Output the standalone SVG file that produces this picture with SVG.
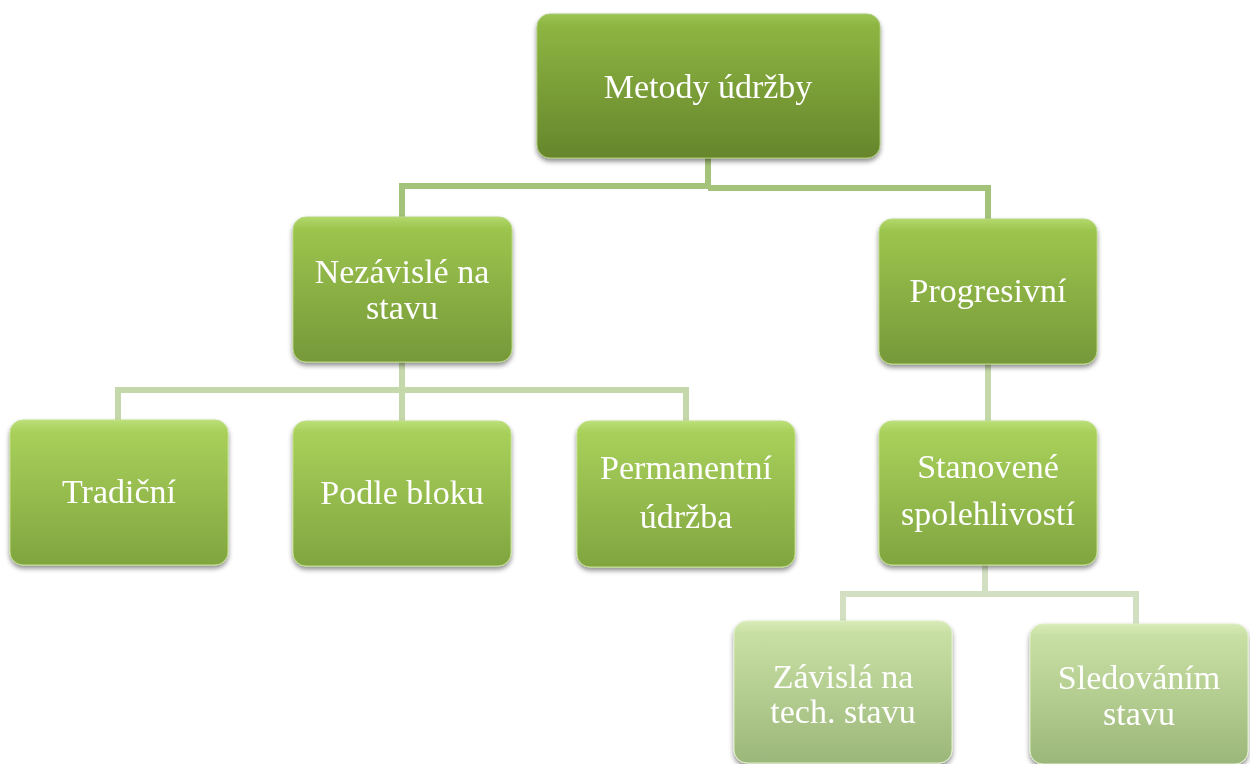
<svg xmlns="http://www.w3.org/2000/svg" width="1250" height="764" viewBox="0 0 1250 764">
  <defs>
    <linearGradient id="g0" x1="0" y1="0" x2="0" y2="1">
      <stop offset="0" stop-color="#9cc556"/>
      <stop offset="0.08" stop-color="#8db542"/>
      <stop offset="1" stop-color="#66852c"/>
    </linearGradient>
    <linearGradient id="g1" x1="0" y1="0" x2="0" y2="1">
      <stop offset="0" stop-color="#b2d86c"/>
      <stop offset="0.08" stop-color="#9cc54d"/>
      <stop offset="1" stop-color="#76983a"/>
    </linearGradient>
    <linearGradient id="g2" x1="0" y1="0" x2="0" y2="1">
      <stop offset="0" stop-color="#badf78"/>
      <stop offset="0.08" stop-color="#a8d05a"/>
      <stop offset="1" stop-color="#80a540"/>
    </linearGradient>
    <linearGradient id="g3" x1="0" y1="0" x2="0" y2="1">
      <stop offset="0" stop-color="#d8ebb8"/>
      <stop offset="0.08" stop-color="#c9e0a4"/>
      <stop offset="1" stop-color="#9cb77a"/>
    </linearGradient>
    <filter id="sh" x="-10%" y="-10%" width="120%" height="125%">
      <feGaussianBlur in="SourceAlpha" stdDeviation="2.5"/>
      <feOffset dx="0" dy="3" result="b"/>
      <feComponentTransfer><feFuncA type="linear" slope="0.45"/></feComponentTransfer>
      <feMerge><feMergeNode/><feMergeNode in="SourceGraphic"/></feMerge>
    </filter>
  </defs>
  <style>
    .box { filter: url(#sh); }
    .l0 { fill: url(#g0); stroke: #a8c870; stroke-width: 1; }
    .l1 { fill: url(#g1); stroke: #b8d880; stroke-width: 1; }
    .l2 { fill: url(#g2); stroke: #c0e088; stroke-width: 1; }
    .l3 { fill: url(#g3); stroke: #e0efc8; stroke-width: 1; }
    text { font-family: "Liberation Serif", "Times New Roman", serif; font-size: 34px; fill: #ffffff; text-anchor: middle; }
    .c0 { stroke: #a3c27a; stroke-width: 6; fill: none; }
    .c1 { stroke: #c5d8a9; stroke-width: 6; fill: none; }
    .c2 { stroke: #d2dfc1; stroke-width: 6; fill: none; }
  </style>
  <rect width="1250" height="764" fill="#ffffff"/>
  <g id="connectors">
    <path class="c0" d="M708 158 V186 M402 218 V186 H708 M708 188 H988 V220"/>
    <path class="c1" d="M402 362 V421 M118 420 V390 H686 V421"/>
    <path class="c1" d="M988 364 V421"/>
    <path class="c2" d="M985 565 V595 M843 622 V594 H1136 V624"/>
  </g>
  <g id="n-metody" class="box">
    <rect class="l0" x="537" y="14" width="343" height="144" rx="13"/>
    <text x="708" y="98">Metody údržby</text>
  </g>
  <g id="n-nezavisle" class="box">
    <rect class="l1" x="293" y="217" width="219" height="145" rx="13"/>
    <text x="402" y="283">Nezávislé na</text>
    <text x="402" y="319">stavu</text>
  </g>
  <g id="n-progresivni" class="box">
    <rect class="l1" x="879" y="219" width="218" height="145" rx="13"/>
    <text x="988" y="302">Progresivní</text>
  </g>
  <g id="n-tradicni" class="box">
    <rect class="l2" x="10" y="420" width="218" height="145" rx="13"/>
    <text x="119" y="503">Tradiční</text>
  </g>
  <g id="n-podle" class="box">
    <rect class="l2" x="293" y="421" width="218" height="145" rx="13"/>
    <text x="402" y="504">Podle bloku</text>
  </g>
  <g id="n-permanentni" class="box">
    <rect class="l2" x="577" y="421" width="218" height="146" rx="13"/>
    <text x="686" y="479">Permanentní</text>
    <text x="686" y="528">údržba</text>
  </g>
  <g id="n-stanovene" class="box">
    <rect class="l2" x="879" y="421" width="218" height="144" rx="13"/>
    <text x="988" y="478">Stanovené</text>
    <text x="988" y="525">spolehlivostí</text>
  </g>
  <g id="n-zavisla" class="box">
    <rect class="l3" x="734" y="621" width="218" height="142" rx="13"/>
    <text x="843" y="688">Závislá na</text>
    <text x="843" y="723">tech. stavu</text>
  </g>
  <g id="n-sledovanim" class="box">
    <rect class="l3" x="1030" y="624" width="218" height="140" rx="13"/>
    <text x="1139" y="689">Sledováním</text>
    <text x="1139" y="725">stavu</text>
  </g>
</svg>
